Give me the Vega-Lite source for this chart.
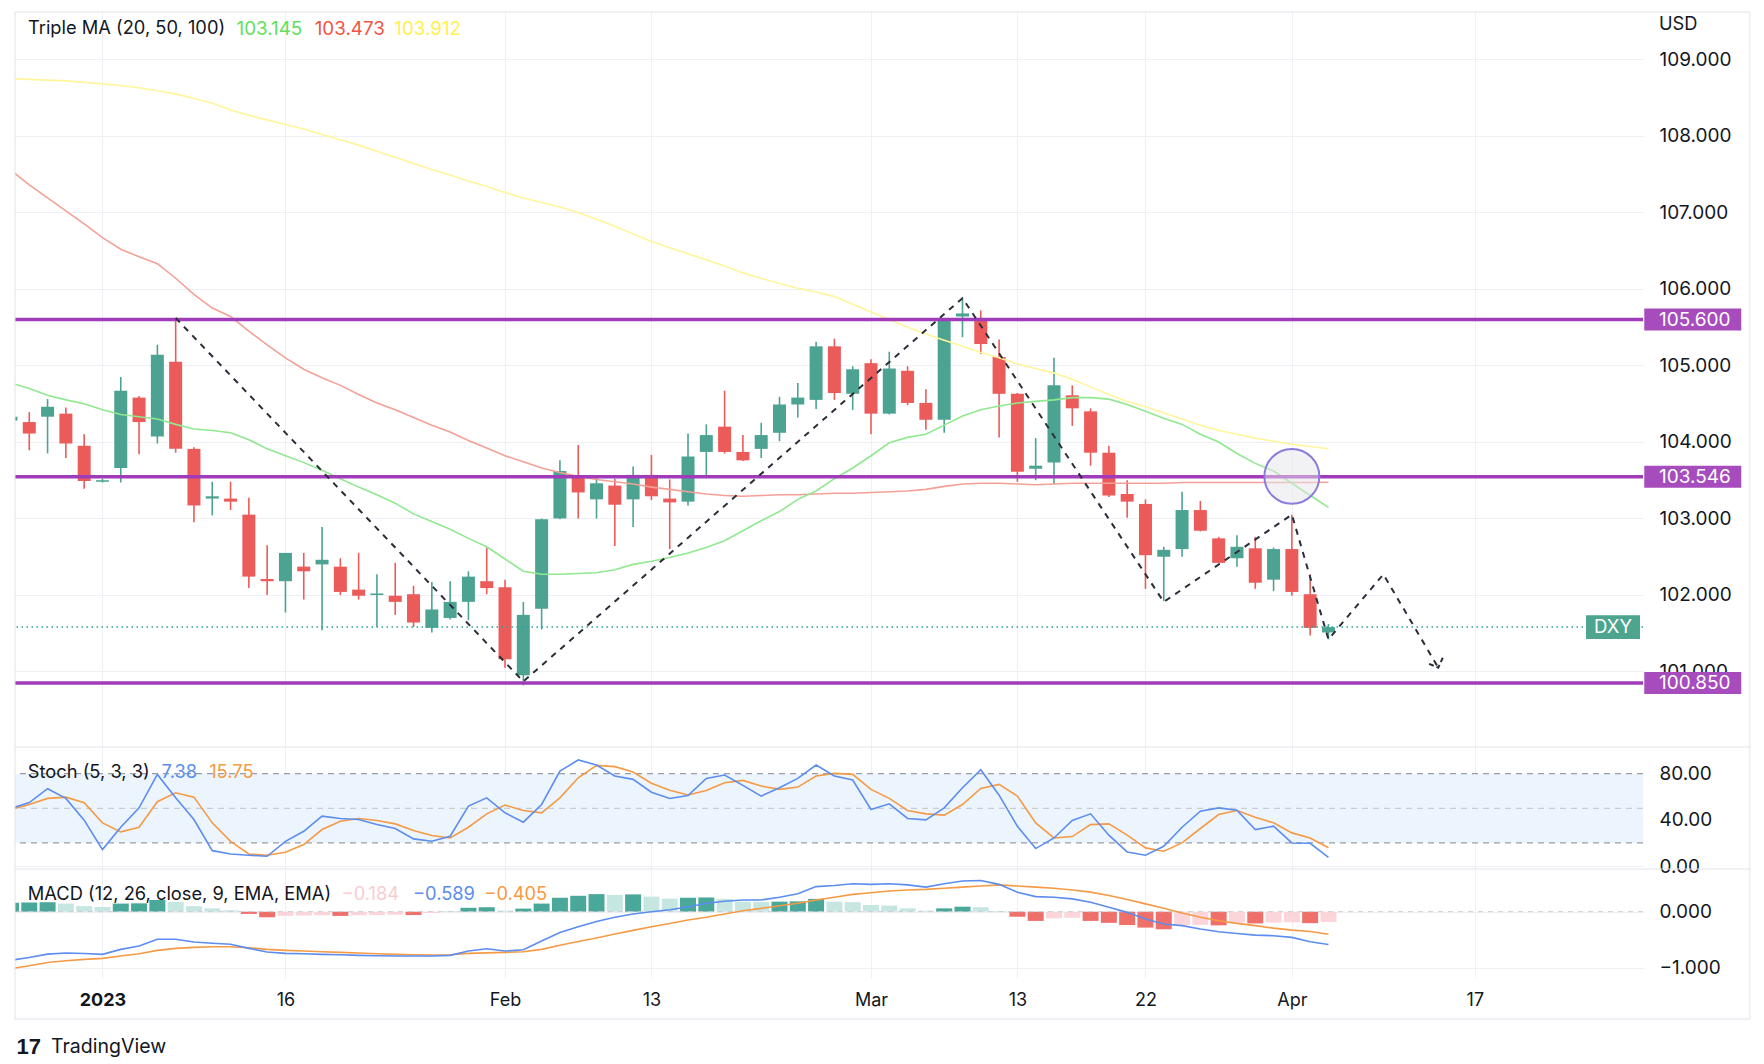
{
  "$schema": "https://vega.github.io/schema/vega-lite/v6.json",
  "background": "#ffffff",
  "padding": {"left": 13, "top": 11, "right": 0, "bottom": 0},
  "bounds": "flush",
  "spacing": 0,
  "config": {
    "view": {"stroke": null},
    "font": "Inter",
    "scale": {"continuousPadding": 0},
    "axis": {"domain": false, "ticks": false, "gridColor": "#eef0f5", "gridWidth": 1, "labelColor": "#131722", "labelFont": "Inter", "labelFontSize": 19, "labelOverlap": false, "labelFlush": false}
  },
  "resolve": {"scale": {"x": "shared", "y": "independent", "color": "independent"}},
  "datasets": {
    "bars": [
      {"n":-5,"o":104.28,"h":104.36,"l":104.26,"c":104.33,"m20":104.77,"m50":107.55,"m100":108.75,"k":50,"d":49,"macd":-0.87,"sig":-1.02,"hist":0.16,"hc":"ga"},
      {"n":-4,"o":104.26,"h":104.39,"l":103.89,"c":104.11,"m20":104.70,"m50":107.36,"m100":108.74,"k":55,"d":53.3,"macd":-0.82,"sig":-0.97,"hist":0.165,"hc":"ga"},
      {"n":-3,"o":104.33,"h":104.56,"l":103.85,"c":104.46,"m20":104.61,"m50":107.19,"m100":108.73,"k":67,"d":58.6,"macd":-0.76,"sig":-0.91,"hist":0.17,"hc":"ga"},
      {"n":-2,"o":104.37,"h":104.45,"l":103.79,"c":103.98,"m20":104.55,"m50":107.02,"m100":108.72,"k":58.6,"d":59.7,"macd":-0.74,"sig":-0.88,"hist":0.145,"hc":"fa"},
      {"n":-1,"o":103.95,"h":104.10,"l":103.39,"c":103.49,"m20":104.50,"m50":106.85,"m100":108.70,"k":39.7,"d":54.8,"macd":-0.75,"sig":-0.855,"hist":0.10,"hc":"fa"},
      {"n":0,"o":103.48,"h":103.52,"l":103.47,"c":103.50,"m20":104.42,"m50":106.67,"m100":108.68,"k":14.2,"d":37.4,"macd":-0.765,"sig":-0.837,"hist":0.085,"hc":"fa"},
      {"n":1,"o":103.66,"h":104.85,"l":103.47,"c":104.67,"m20":104.36,"m50":106.52,"m100":108.66,"k":33.6,"d":29.6,"macd":-0.675,"sig":-0.795,"hist":0.145,"hc":"ga"},
      {"n":2,"o":104.58,"h":104.60,"l":103.84,"c":104.26,"m20":104.33,"m50":106.42,"m100":108.63,"k":50.4,"d":33.6,"macd":-0.614,"sig":-0.753,"hist":0.15,"hc":"ga"},
      {"n":3,"o":104.07,"h":105.27,"l":103.98,"c":105.14,"m20":104.30,"m50":106.33,"m100":108.59,"k":79.4,"d":55.7,"macd":-0.494,"sig":-0.693,"hist":0.21,"hc":"ga"},
      {"n":4,"o":105.05,"h":105.62,"l":103.86,"c":103.91,"m20":104.23,"m50":106.14,"m100":108.55,"k":59.1,"d":63.5,"macd":-0.494,"sig":-0.657,"hist":0.175,"hc":"fa"},
      {"n":5,"o":103.91,"h":103.93,"l":102.95,"c":103.17,"m20":104.17,"m50":105.93,"m100":108.49,"k":40.3,"d":59.7,"macd":-0.542,"sig":-0.639,"hist":0.10,"hc":"fa"},
      {"n":6,"o":103.26,"h":103.48,"l":103.04,"c":103.29,"m20":104.15,"m50":105.75,"m100":108.43,"k":13.3,"d":37.4,"macd":-0.566,"sig":-0.627,"hist":0.06,"hc":"fa"},
      {"n":7,"o":103.26,"h":103.48,"l":103.11,"c":103.22,"m20":104.12,"m50":105.64,"m100":108.34,"k":10.4,"d":21.4,"macd":-0.584,"sig":-0.627,"hist":0.025,"hc":"fa"},
      {"n":8,"o":103.05,"h":103.27,"l":102.09,"c":102.24,"m20":104.03,"m50":105.45,"m100":108.27,"k":9.3,"d":10.4,"macd":-0.657,"sig":-0.645,"hist":-0.04,"hc":"fb"},
      {"n":9,"o":102.21,"h":102.65,"l":102.00,"c":102.18,"m20":103.91,"m50":105.27,"m100":108.21,"k":8.4,"d":9.3,"macd":-0.723,"sig":-0.675,"hist":-0.10,"hc":"fb"},
      {"n":10,"o":102.18,"h":102.55,"l":101.77,"c":102.55,"m20":103.82,"m50":105.10,"m100":108.15,"k":21.4,"d":11.9,"macd":-0.747,"sig":-0.693,"hist":-0.075,"hc":"gb"},
      {"n":11,"o":102.37,"h":102.55,"l":101.94,"c":102.31,"m20":103.73,"m50":104.95,"m100":108.09,"k":30.1,"d":18.6,"macd":-0.753,"sig":-0.705,"hist":-0.07,"hc":"gb"},
      {"n":12,"o":102.40,"h":102.89,"l":101.54,"c":102.46,"m20":103.63,"m50":104.84,"m100":108.02,"k":43.2,"d":31.6,"macd":-0.765,"sig":-0.717,"hist":-0.065,"hc":"gb"},
      {"n":13,"o":102.37,"h":102.48,"l":102.00,"c":102.04,"m20":103.52,"m50":104.74,"m100":107.95,"k":41.2,"d":38.8,"macd":-0.771,"sig":-0.729,"hist":-0.075,"hc":"fb"},
      {"n":14,"o":102.07,"h":102.55,"l":101.94,"c":101.99,"m20":103.41,"m50":104.62,"m100":107.88,"k":40.3,"d":41.2,"macd":-0.783,"sig":-0.741,"hist":-0.065,"hc":"gb"},
      {"n":15,"o":102.00,"h":102.27,"l":101.58,"c":102.02,"m20":103.31,"m50":104.51,"m100":107.80,"k":35.9,"d":39.4,"macd":-0.789,"sig":-0.753,"hist":-0.06,"hc":"gb"},
      {"n":16,"o":101.99,"h":102.42,"l":101.74,"c":101.91,"m20":103.20,"m50":104.42,"m100":107.72,"k":32.5,"d":36.5,"macd":-0.795,"sig":-0.765,"hist":-0.055,"hc":"gb"},
      {"n":17,"o":102.01,"h":102.12,"l":101.58,"c":101.64,"m20":103.06,"m50":104.32,"m100":107.64,"k":23.5,"d":30.7,"macd":-0.795,"sig":-0.771,"hist":-0.06,"hc":"fb"},
      {"n":18,"o":101.57,"h":102.17,"l":101.51,"c":101.81,"m20":102.96,"m50":104.22,"m100":107.56,"k":21.4,"d":26.4,"macd":-0.795,"sig":-0.777,"hist":-0.025,"hc":"gb"},
      {"n":19,"o":101.70,"h":102.18,"l":101.68,"c":101.91,"m20":102.86,"m50":104.13,"m100":107.49,"k":25.8,"d":24.3,"macd":-0.783,"sig":-0.771,"hist":0.012,"hc":"fa"},
      {"n":20,"o":101.91,"h":102.31,"l":101.67,"c":102.24,"m20":102.74,"m50":104.02,"m100":107.41,"k":51.9,"d":33.6,"macd":-0.705,"sig":-0.747,"hist":0.07,"hc":"ga"},
      {"n":21,"o":102.18,"h":102.62,"l":102.01,"c":102.09,"m20":102.63,"m50":103.92,"m100":107.34,"k":59.1,"d":45.2,"macd":-0.663,"sig":-0.738,"hist":0.08,"hc":"ga"},
      {"n":22,"o":102.10,"h":102.20,"l":101.05,"c":101.16,"m20":102.47,"m50":103.82,"m100":107.26,"k":46.1,"d":52.8,"macd":-0.705,"sig":-0.729,"hist":0.02,"hc":"fa"},
      {"n":23,"o":100.95,"h":101.91,"l":100.82,"c":101.74,"m20":102.31,"m50":103.74,"m100":107.19,"k":38.0,"d":48.1,"macd":-0.681,"sig":-0.717,"hist":0.055,"hc":"ga"},
      {"n":24,"o":101.82,"h":103.00,"l":101.55,"c":102.99,"m20":102.27,"m50":103.66,"m100":107.13,"k":53.3,"d":46.1,"macd":-0.524,"sig":-0.675,"hist":0.145,"hc":"ga"},
      {"n":25,"o":103.00,"h":103.76,"l":102.99,"c":103.62,"m20":102.27,"m50":103.60,"m100":107.07,"k":82.3,"d":59.1,"macd":-0.373,"sig":-0.60,"hist":0.25,"hc":"ga"},
      {"n":26,"o":103.53,"h":103.96,"l":103.00,"c":103.34,"m20":102.28,"m50":103.55,"m100":107.00,"k":91.9,"d":76.5,"macd":-0.271,"sig":-0.535,"hist":0.285,"hc":"ga"},
      {"n":27,"o":103.25,"h":103.53,"l":103.00,"c":103.46,"m20":102.29,"m50":103.51,"m100":106.91,"k":87.5,"d":87.2,"macd":-0.175,"sig":-0.47,"hist":0.315,"hc":"ga"},
      {"n":28,"o":103.43,"h":103.52,"l":102.64,"c":103.18,"m20":102.33,"m50":103.48,"m100":106.82,"k":78.0,"d":86.1,"macd":-0.10,"sig":-0.40,"hist":0.30,"hc":"fa"},
      {"n":29,"o":103.25,"h":103.68,"l":102.89,"c":103.57,"m20":102.40,"m50":103.45,"m100":106.72,"k":75.1,"d":81.4,"macd":-0.04,"sig":-0.335,"hist":0.31,"hc":"ga"},
      {"n":30,"o":103.57,"h":103.83,"l":103.24,"c":103.29,"m20":102.44,"m50":103.41,"m100":106.62,"k":64,"d":71.8,"macd":0.0,"sig":-0.27,"hist":0.27,"hc":"fa"},
      {"n":31,"o":103.26,"h":103.51,"l":102.60,"c":103.21,"m20":102.49,"m50":103.38,"m100":106.54,"k":58.5,"d":65.6,"macd":0.035,"sig":-0.21,"hist":0.235,"hc":"fa"},
      {"n":32,"o":103.22,"h":104.11,"l":103.17,"c":103.81,"m20":102.55,"m50":103.35,"m100":106.46,"k":61,"d":61.6,"macd":0.085,"sig":-0.15,"hist":0.25,"hc":"ga"},
      {"n":33,"o":103.87,"h":104.23,"l":103.56,"c":104.09,"m20":102.62,"m50":103.32,"m100":106.38,"k":75.9,"d":65.5,"macd":0.15,"sig":-0.10,"hist":0.255,"hc":"ga"},
      {"n":34,"o":104.20,"h":104.67,"l":103.85,"c":103.87,"m20":102.71,"m50":103.30,"m100":106.30,"k":78.8,"d":72.2,"macd":0.187,"sig":-0.042,"hist":0.23,"hc":"fa"},
      {"n":35,"o":103.87,"h":104.09,"l":103.75,"c":103.76,"m20":102.84,"m50":103.29,"m100":106.21,"k":69.9,"d":74.2,"macd":0.21,"sig":0.018,"hist":0.18,"hc":"fa"},
      {"n":36,"o":103.91,"h":104.25,"l":103.79,"c":104.09,"m20":102.97,"m50":103.30,"m100":106.14,"k":60.6,"d":69.3,"macd":0.21,"sig":0.06,"hist":0.175,"hc":"fa"},
      {"n":37,"o":104.12,"h":104.59,"l":104.01,"c":104.49,"m20":103.09,"m50":103.31,"m100":106.07,"k":67.8,"d":66.4,"macd":0.26,"sig":0.108,"hist":0.18,"hc":"ga"},
      {"n":38,"o":104.49,"h":104.77,"l":104.32,"c":104.58,"m20":103.25,"m50":103.31,"m100":106.01,"k":75.9,"d":68.4,"macd":0.32,"sig":0.15,"hist":0.185,"hc":"ga"},
      {"n":39,"o":104.55,"h":105.31,"l":104.43,"c":105.25,"m20":103.36,"m50":103.32,"m100":105.96,"k":87.5,"d":78.0,"macd":0.45,"sig":0.21,"hist":0.23,"hc":"ga"},
      {"n":40,"o":105.25,"h":105.35,"l":104.55,"c":104.64,"m20":103.52,"m50":103.33,"m100":105.90,"k":78.0,"d":80.3,"macd":0.47,"sig":0.26,"hist":0.18,"hc":"fa"},
      {"n":41,"o":104.63,"h":104.99,"l":104.42,"c":104.95,"m20":103.66,"m50":103.33,"m100":105.80,"k":74.5,"d":79.4,"macd":0.50,"sig":0.31,"hist":0.17,"hc":"fa"},
      {"n":42,"o":105.03,"h":105.08,"l":104.10,"c":104.37,"m20":103.82,"m50":103.34,"m100":105.70,"k":49.0,"d":66.4,"macd":0.49,"sig":0.34,"hist":0.12,"hc":"fa"},
      {"n":43,"o":104.37,"h":105.18,"l":104.36,"c":104.96,"m20":103.99,"m50":103.35,"m100":105.60,"k":53.9,"d":58.6,"macd":0.50,"sig":0.37,"hist":0.11,"hc":"fa"},
      {"n":44,"o":104.93,"h":104.99,"l":104.48,"c":104.51,"m20":104.06,"m50":103.36,"m100":105.50,"k":41.2,"d":48.1,"macd":0.48,"sig":0.39,"hist":0.06,"hc":"fa"},
      {"n":45,"o":104.51,"h":104.69,"l":104.16,"c":104.29,"m20":104.10,"m50":103.38,"m100":105.41,"k":40.0,"d":45.2,"macd":0.44,"sig":0.40,"hist":0.018,"hc":"fa"},
      {"n":46,"o":104.29,"h":105.62,"l":104.12,"c":105.61,"m20":104.22,"m50":103.42,"m100":105.33,"k":50.4,"d":44.1,"macd":0.50,"sig":0.42,"hist":0.06,"hc":"ga"},
      {"n":47,"o":105.64,"h":105.88,"l":105.37,"c":105.68,"m20":104.34,"m50":103.45,"m100":105.25,"k":67.8,"d":53.3,"macd":0.55,"sig":0.44,"hist":0.09,"hc":"ga"},
      {"n":48,"o":105.61,"h":105.72,"l":105.15,"c":105.28,"m20":104.42,"m50":103.46,"m100":105.17,"k":83.5,"d":67.2,"macd":0.56,"sig":0.46,"hist":0.08,"hc":"fa"},
      {"n":49,"o":105.11,"h":105.34,"l":104.06,"c":104.63,"m20":104.47,"m50":103.46,"m100":105.10,"k":61.4,"d":70.7,"macd":0.49,"sig":0.48,"hist":0.012,"hc":"fa"},
      {"n":50,"o":104.63,"h":104.64,"l":103.48,"c":103.61,"m20":104.51,"m50":103.45,"m100":105.02,"k":34.5,"d":60.6,"macd":0.35,"sig":0.46,"hist":-0.09,"hc":"fb"},
      {"n":51,"o":103.65,"h":104.05,"l":103.50,"c":103.69,"m20":104.53,"m50":103.44,"m100":104.96,"k":15.1,"d":37.4,"macd":0.27,"sig":0.44,"hist":-0.165,"hc":"fb"},
      {"n":52,"o":103.73,"h":105.10,"l":103.45,"c":104.74,"m20":104.55,"m50":103.45,"m100":104.90,"k":24.3,"d":24.3,"macd":0.26,"sig":0.42,"hist":-0.12,"hc":"gb"},
      {"n":53,"o":104.61,"h":104.74,"l":104.21,"c":104.44,"m20":104.58,"m50":103.46,"m100":104.82,"k":39.4,"d":25.5,"macd":0.23,"sig":0.39,"hist":-0.11,"hc":"gb"},
      {"n":54,"o":104.40,"h":104.44,"l":103.69,"c":103.86,"m20":104.58,"m50":103.46,"m100":104.72,"k":45.2,"d":35.9,"macd":0.17,"sig":0.35,"hist":-0.165,"hc":"fb"},
      {"n":55,"o":103.86,"h":103.95,"l":103.28,"c":103.30,"m20":104.56,"m50":103.46,"m100":104.62,"k":26.7,"d":36.5,"macd":0.078,"sig":0.29,"hist":-0.20,"hc":"fb"},
      {"n":56,"o":103.32,"h":103.50,"l":103.01,"c":103.22,"m20":104.49,"m50":103.46,"m100":104.53,"k":12.2,"d":26.7,"macd":-0.012,"sig":0.22,"hist":-0.24,"hc":"fb"},
      {"n":57,"o":103.19,"h":103.25,"l":102.08,"c":102.52,"m20":104.40,"m50":103.46,"m100":104.46,"k":9.3,"d":15.7,"macd":-0.13,"sig":0.14,"hist":-0.285,"hc":"fb"},
      {"n":58,"o":102.50,"h":102.63,"l":101.92,"c":102.59,"m20":104.31,"m50":103.46,"m100":104.38,"k":17.1,"d":12.8,"macd":-0.22,"sig":0.06,"hist":-0.315,"hc":"fb"},
      {"n":59,"o":102.60,"h":103.35,"l":102.50,"c":103.11,"m20":104.23,"m50":103.47,"m100":104.30,"k":33.6,"d":20.0,"macd":-0.25,"sig":-0.024,"hist":-0.24,"hc":"gb"},
      {"n":60,"o":103.11,"h":103.23,"l":102.83,"c":102.84,"m20":104.10,"m50":103.47,"m100":104.22,"k":47.5,"d":32.5,"macd":-0.31,"sig":-0.10,"hist":-0.235,"hc":"gb"},
      {"n":61,"o":102.74,"h":102.76,"l":102.41,"c":102.42,"m20":104.00,"m50":103.47,"m100":104.15,"k":50.4,"d":44.6,"macd":-0.36,"sig":-0.163,"hist":-0.245,"hc":"fb"},
      {"n":62,"o":102.48,"h":102.78,"l":102.37,"c":102.63,"m20":103.85,"m50":103.47,"m100":104.10,"k":48.4,"d":48.1,"macd":-0.39,"sig":-0.21,"hist":-0.195,"hc":"gb"},
      {"n":63,"o":102.61,"h":102.76,"l":102.08,"c":102.16,"m20":103.72,"m50":103.47,"m100":104.05,"k":31.6,"d":42.3,"macd":-0.42,"sig":-0.25,"hist":-0.21,"hc":"fb"},
      {"n":64,"o":102.20,"h":102.62,"l":102.05,"c":102.60,"m20":103.62,"m50":103.47,"m100":104.01,"k":34.5,"d":37.4,"macd":-0.43,"sig":-0.295,"hist":-0.195,"hc":"gb"},
      {"n":65,"o":102.60,"h":103.05,"l":101.99,"c":102.04,"m20":103.46,"m50":103.47,"m100":103.97,"k":20.0,"d":28.7,"macd":-0.46,"sig":-0.33,"hist":-0.19,"hc":"gb"},
      {"n":66,"o":102.01,"h":102.27,"l":101.47,"c":101.57,"m20":103.30,"m50":103.47,"m100":103.94,"k":19.7,"d":24.3,"macd":-0.54,"sig":-0.355,"hist":-0.205,"hc":"fb"},
      {"n":67,"o":101.51,"h":101.62,"l":101.42,"c":101.58,"m20":103.145,"m50":103.473,"m100":103.912,"k":7.38,"d":15.75,"macd":-0.589,"sig":-0.405,"hist":-0.184,"hc":"gb"}
    ],
    "zig": [
      {"n":4,"v":105.62},{"n":23,"v":100.87},{"n":47,"v":105.88},{"n":58,"v":101.91},
      {"n":65,"v":103.05},{"n":67,"v":101.42},{"n":70,"v":102.27},{"n":73,"v":101.05}
    ],
    "arrow": [{"n":72.5,"v":101.10},{"n":73.0,"v":101.05},{"n":73.25,"v":101.18}],
    "levels": [{"v":105.6},{"v":103.546},{"v":100.85}]
  },
  "vconcat": [
    {
      "width": 1628,
      "height": 735,
      "layer": [
        {
          "data": {"name": "bars"},
          "mark": {"type": "rule", "clip": true, "strokeWidth": 1.6},
          "encoding": {
            "x": {"field": "n", "type": "quantitative", "scale": {"domain": [-4.78, 84.19], "nice": false, "zero": false, "padding": 0},
                  "axis": {"title": null, "values": [0,10,22,30,42,50,57,65,75], "labels": false, "grid": true}},
            "y": {"field": "l", "type": "quantitative", "scale": {"domain": [100.013, 109.62], "nice": false, "zero": false},
                  "axis": {"title": null, "orient": "right", "values": [101,102,103,104,105,106,107,108,109], "format": ".3f", "labelPadding": 16, "grid": true}},
            "y2": {"field": "h"},
            "color": {"condition": {"test": "datum.c >= datum.o", "value": "#4ca392"}, "value": "#eb5b5a"}
          }
        },
        {
          "data": {"name": "bars"},
          "mark": {"type": "bar", "clip": true, "size": 13},
          "encoding": {
            "x": {"field": "n", "type": "quantitative"},
            "y": {"field": "o", "type": "quantitative"},
            "y2": {"field": "c"},
            "color": {"condition": {"test": "datum.c >= datum.o", "value": "#4ca392"}, "value": "#eb5b5a"}
          }
        },
        {
          "data": {"name": "bars"},
          "mark": {"type": "line", "clip": true, "strokeWidth": 1.6, "color": "#fff59a"},
          "encoding": {"x": {"field": "n", "type": "quantitative"}, "y": {"field": "m100", "type": "quantitative"}}
        },
        {
          "data": {"name": "bars"},
          "mark": {"type": "line", "clip": true, "strokeWidth": 1.6, "color": "#f4a096"},
          "encoding": {"x": {"field": "n", "type": "quantitative"}, "y": {"field": "m50", "type": "quantitative"}}
        },
        {
          "data": {"name": "bars"},
          "mark": {"type": "line", "clip": true, "strokeWidth": 1.6, "color": "#90e890"},
          "encoding": {"x": {"field": "n", "type": "quantitative"}, "y": {"field": "m20", "type": "quantitative"}}
        },
        {
          "data": {"name": "levels"},
          "mark": {"type": "rule", "color": "#a03cb9", "strokeWidth": 3.5},
          "encoding": {"y": {"field": "v", "type": "quantitative"}}
        },
        {
          "data": {"values": [{}]},
          "mark": {"type": "rule", "color": "#26a69a", "strokeWidth": 1.5, "strokeDash": [1.5, 3.5]},
          "encoding": {"y": {"datum": 101.58}}
        },
        {
          "data": {"name": "zig"},
          "mark": {"type": "line", "clip": true, "color": "#2a2e39", "strokeWidth": 2, "strokeDash": [6, 6]},
          "encoding": {"x": {"field": "n", "type": "quantitative"}, "y": {"field": "v", "type": "quantitative"}}
        },
        {
          "data": {"name": "arrow"},
          "mark": {"type": "line", "clip": true, "color": "#2a2e39", "strokeWidth": 2, "strokeDash": [5, 3]},
          "encoding": {"x": {"field": "n", "type": "quantitative"}, "y": {"field": "v", "type": "quantitative"}}
        },
        {
          "data": {"values": [{"n": 65, "v": 103.55}]},
          "mark": {"type": "point", "shape": "circle", "filled": true, "fill": "#e6e6ea", "fillOpacity": 0.5, "stroke": "#8b7cdb", "strokeWidth": 2, "size": 3019, "opacity": 1},
          "encoding": {"x": {"field": "n", "type": "quantitative"}, "y": {"field": "v", "type": "quantitative"}}
        },
        {
          "data": {"name": "levels"},
          "mark": {"type": "point", "shape": "M-1,-0.227H1V0.227H-1Z", "filled": true, "size": 9409, "color": "#a64cbc", "opacity": 1, "clip": false},
          "encoding": {"x": {"datum": 86.91}, "y": {"field": "v", "type": "quantitative"}}
        },
        {
          "data": {"name": "levels"},
          "mark": {"type": "text", "align": "left", "baseline": "middle", "color": "#ffffff", "fontSize": 19, "clip": false},
          "encoding": {"x": {"datum": 85.06}, "y": {"field": "v", "type": "quantitative"}, "text": {"field": "v", "type": "quantitative", "format": ".3f"}}
        },
        {
          "data": {"values": [{}]},
          "mark": {"type": "point", "shape": "M-1,-0.444H1V0.444H-1Z", "filled": true, "size": 2916, "color": "#4da58f", "opacity": 1, "clip": false},
          "encoding": {"x": {"datum": 82.55}, "y": {"datum": 101.58}}
        },
        {
          "data": {"values": [{}]},
          "mark": {"type": "text", "align": "center", "baseline": "middle", "color": "#ffffff", "fontSize": 18.5, "text": "DXY"},
          "encoding": {"x": {"datum": 82.55}, "y": {"datum": 101.58}}
        },
        {
          "data": {"values": [{}]},
          "mark": {"type": "text", "align": "left", "baseline": "middle", "color": "#131722", "fontSize": 18.3, "text": "USD", "clip": false},
          "encoding": {"x": {"datum": 85.06}, "y": {"datum": 109.456}}
        },
        {
          "data": {"values": [{}]},
          "mark": {"type": "text", "align": "left", "baseline": "middle", "color": "#131722", "fontSize": 18.3, "text": "Triple MA (20, 50, 100)"},
          "encoding": {"x": {"datum": -4.07}, "y": {"datum": 109.40}}
        },
        {
          "data": {"values": [{}]},
          "mark": {"type": "text", "align": "left", "baseline": "middle", "color": "#5fe05f", "fontSize": 18.8, "text": "103.145"},
          "encoding": {"x": {"datum": 7.33}, "y": {"datum": 109.40}}
        },
        {
          "data": {"values": [{}]},
          "mark": {"type": "text", "align": "left", "baseline": "middle", "color": "#f05545", "fontSize": 18.8, "text": "103.473"},
          "encoding": {"x": {"datum": 11.6}, "y": {"datum": 109.40}}
        },
        {
          "data": {"values": [{}]},
          "mark": {"type": "text", "align": "left", "baseline": "middle", "color": "#fff050", "fontSize": 18.8, "text": "103.912"},
          "encoding": {"x": {"datum": 15.95}, "y": {"datum": 109.40}}
        },
        {
          "data": {"values": [{}]},
          "mark": {"type": "rule", "color": "#e0e3eb", "strokeWidth": 1, "clip": false},
          "encoding": {"x": {"datum": -4.78}, "x2": {"datum": 90.03}, "y": {"datum": 109.62}}
        },
        {
          "data": {"values": [{}]},
          "mark": {"type": "rule", "color": "#e0e3eb", "strokeWidth": 1, "clip": false},
          "encoding": {"x": {"datum": 90.03}, "y": {"datum": 100.013}, "y2": {"datum": 109.62}}
        },
        {
          "data": {"values": [{}]},
          "mark": {"type": "rule", "color": "#e0e3eb", "strokeWidth": 1, "clip": false},
          "encoding": {"x": {"datum": -4.78}}
        }
      ]
    },
    {
      "width": 1628,
      "height": 122,
      "layer": [
        {
          "data": {"values": [{}]},
          "mark": {"type": "rect", "color": "#ecf4fd"},
          "encoding": {
            "x": {"datum": -4.78, "type": "quantitative", "scale": {"domain": [-4.78, 84.19], "nice": false, "zero": false, "padding": 0},
                  "axis": {"title": null, "values": [0,10,22,30,42,50,57,65,75], "labels": false, "grid": true}},
            "x2": {"datum": 84.19},
            "y": {"datum": 20, "type": "quantitative", "scale": {"domain": [-2.6, 103.14], "nice": false, "zero": false},
                  "axis": {"title": null, "orient": "right", "values": [0, 40, 80], "format": ".2f", "labelPadding": 16, "grid": true}},
            "y2": {"datum": 80}
          }
        },
        {
          "data": {"values": [{"v": 80}, {"v": 20}]},
          "mark": {"type": "rule", "color": "#9a9da6", "strokeWidth": 1.3, "strokeDash": [6, 5]},
          "encoding": {"y": {"field": "v", "type": "quantitative"}}
        },
        {
          "data": {"values": [{}]},
          "mark": {"type": "rule", "color": "#c9ccd3", "strokeWidth": 1.2, "strokeDash": [6, 5]},
          "encoding": {"y": {"datum": 50}}
        },
        {
          "data": {"name": "bars"},
          "mark": {"type": "line", "clip": true, "strokeWidth": 1.6, "color": "#f59a45"},
          "encoding": {"x": {"field": "n", "type": "quantitative"}, "y": {"field": "d", "type": "quantitative"}}
        },
        {
          "data": {"name": "bars"},
          "mark": {"type": "line", "clip": true, "strokeWidth": 1.6, "color": "#5c8def"},
          "encoding": {"x": {"field": "n", "type": "quantitative"}, "y": {"field": "k", "type": "quantitative"}}
        },
        {
          "data": {"values": [{}]},
          "mark": {"type": "text", "align": "left", "baseline": "middle", "color": "#131722", "fontSize": 18.3, "text": "Stoch (5, 3, 3)"},
          "encoding": {"x": {"datum": -4.08}, "y": {"datum": 80.6}}
        },
        {
          "data": {"values": [{}]},
          "mark": {"type": "text", "align": "left", "baseline": "middle", "color": "#5c8def", "fontSize": 18.3, "text": "7.38"},
          "encoding": {"x": {"datum": 3.23}, "y": {"datum": 80.6}}
        },
        {
          "data": {"values": [{}]},
          "mark": {"type": "text", "align": "left", "baseline": "middle", "color": "#f59a45", "fontSize": 18.3, "text": "15.75"},
          "encoding": {"x": {"datum": 5.83}, "y": {"datum": 80.6}}
        },
        {
          "data": {"values": [{}]},
          "mark": {"type": "rule", "color": "#e0e3eb", "strokeWidth": 1, "clip": false},
          "encoding": {"x": {"datum": -4.78}, "x2": {"datum": 90.03}, "y": {"datum": 103.14}}
        },
        {
          "data": {"values": [{}]},
          "mark": {"type": "rule", "color": "#e0e3eb", "strokeWidth": 1, "clip": false},
          "encoding": {"x": {"datum": 90.03}, "y": {"datum": -2.6}, "y2": {"datum": 103.14}}
        },
        {
          "data": {"values": [{}]},
          "mark": {"type": "rule", "color": "#e0e3eb", "strokeWidth": 1, "clip": false},
          "encoding": {"x": {"datum": -4.78}}
        }
      ]
    },
    {
      "width": 1628,
      "height": 109,
      "layer": [
        {
          "data": {"name": "bars"},
          "mark": {"type": "bar", "clip": true, "size": 16},
          "encoding": {
            "x": {"field": "n", "type": "quantitative", "scale": {"domain": [-4.78, 84.19], "nice": false, "zero": false, "padding": 0},
                  "axis": {"title": null, "values": [0,10,22,30,42,50,57,65,75], "grid": true, "labelPadding": 13, "labelFontSize": 18,
                           "labelExpr": "datum.value === 0 ? '2023' : datum.value === 10 ? '16' : datum.value === 22 ? 'Feb' : datum.value === 30 ? '13' : datum.value === 42 ? 'Mar' : datum.value === 50 ? '13' : datum.value === 57 ? '22' : datum.value === 65 ? 'Apr' : '17'",
                           "labelFontWeight": {"condition": {"test": "datum.value === 0", "value": "bold"}, "value": "normal"}}},
            "y": {"field": "hist", "type": "quantitative", "scale": {"domain": [-1.188, 0.765], "nice": false, "zero": false},
                  "axis": {"title": null, "orient": "right", "values": [-1, 0], "format": ".3f", "labelPadding": 16, "grid": true}},
            "y2": {"datum": 0},
            "color": {"field": "hc", "type": "nominal", "scale": {"domain": ["ga", "fa", "fb", "gb"], "range": ["#4aa89a", "#c6e6e2", "#ef6f6b", "#fbd5d9"]}, "legend": null}
          }
        },
        {
          "data": {"values": [{}]},
          "mark": {"type": "rule", "color": "#c9ccd3", "strokeWidth": 1, "strokeDash": [5, 5]},
          "encoding": {"y": {"datum": 0}}
        },
        {
          "data": {"name": "bars"},
          "mark": {"type": "line", "clip": true, "strokeWidth": 1.6, "color": "#f59a45"},
          "encoding": {"x": {"field": "n", "type": "quantitative"}, "y": {"field": "sig", "type": "quantitative"}}
        },
        {
          "data": {"name": "bars"},
          "mark": {"type": "line", "clip": true, "strokeWidth": 1.6, "color": "#5c8def"},
          "encoding": {"x": {"field": "n", "type": "quantitative"}, "y": {"field": "macd", "type": "quantitative"}}
        },
        {
          "data": {"values": [{}]},
          "mark": {"type": "text", "align": "left", "baseline": "middle", "color": "#131722", "fontSize": 18.3, "text": "MACD (12, 26, close, 9, EMA, EMA)"},
          "encoding": {"x": {"datum": -4.08}, "y": {"datum": 0.30}}
        },
        {
          "data": {"values": [{}]},
          "mark": {"type": "text", "align": "left", "baseline": "middle", "color": "#f8cdd1", "fontSize": 18.3, "text": "−0.184"},
          "encoding": {"x": {"datum": 13.07}, "y": {"datum": 0.30}}
        },
        {
          "data": {"values": [{}]},
          "mark": {"type": "text", "align": "left", "baseline": "middle", "color": "#5c8def", "fontSize": 18.3, "text": "−0.589"},
          "encoding": {"x": {"datum": 16.97}, "y": {"datum": 0.30}}
        },
        {
          "data": {"values": [{}]},
          "mark": {"type": "text", "align": "left", "baseline": "middle", "color": "#f59a45", "fontSize": 18.3, "text": "−0.405"},
          "encoding": {"x": {"datum": 20.87}, "y": {"datum": 0.30}}
        },
        {
          "data": {"values": [{}]},
          "mark": {"type": "rule", "color": "#e0e3eb", "strokeWidth": 1, "clip": false},
          "encoding": {"x": {"datum": -4.78}, "x2": {"datum": 90.03}, "y": {"datum": 0.765}}
        },
        {
          "data": {"values": [{}]},
          "mark": {"type": "rule", "color": "#e0e3eb", "strokeWidth": 1, "clip": false},
          "encoding": {"x": {"datum": -4.78}, "x2": {"datum": 90.03}, "y": {"datum": -1.923}}
        },
        {
          "data": {"values": [{}]},
          "mark": {"type": "rule", "color": "#e0e3eb", "strokeWidth": 1, "clip": false},
          "encoding": {"x": {"datum": 90.03}, "y": {"datum": -1.923}, "y2": {"datum": 0.765}}
        },
        {
          "data": {"values": [{}]},
          "mark": {"type": "rule", "color": "#e0e3eb", "strokeWidth": 1, "clip": false},
          "encoding": {"x": {"datum": -4.78}, "y": {"datum": -1.923}, "y2": {"datum": 0.765}}
        },
        {
          "data": {"values": [{}]},
          "mark": {"type": "text", "align": "left", "baseline": "middle", "color": "#131722", "fontSize": 22, "fontWeight": 900, "font": "Liberation Sans", "text": "17", "clip": false},
          "encoding": {"x": {"datum": -4.70}, "y": {"datum": -2.425}}
        },
        {
          "data": {"values": [{}]},
          "mark": {"type": "text", "align": "left", "baseline": "middle", "color": "#131722", "fontSize": 19.5, "text": "TradingView", "clip": false},
          "encoding": {"x": {"datum": -2.81}, "y": {"datum": -2.425}}
        }
      ]
    }
  ]
}
